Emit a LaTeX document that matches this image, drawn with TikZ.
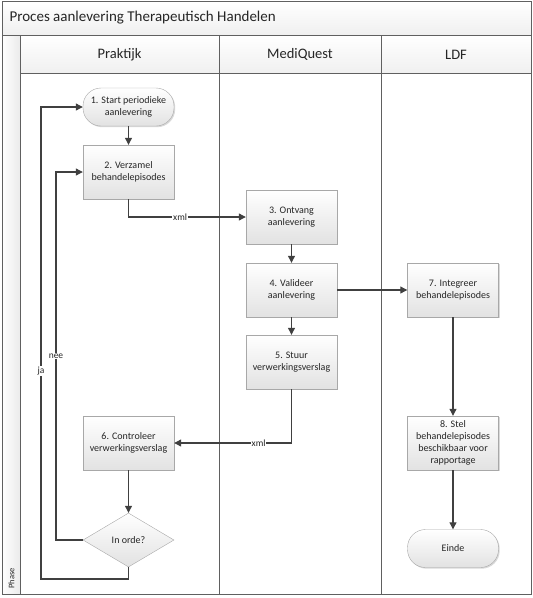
\documentclass[tikz,border=0pt]{standalone}
\usepackage{fontspec}
\setmainfont{Carlito}
\usetikzlibrary{arrows.meta,shapes.geometric,shadows}
\definecolor{linec}{HTML}{404040}
\definecolor{lanec}{HTML}{606060}
\definecolor{boxb}{HTML}{A8A8A8}
\definecolor{boxf}{HTML}{E2E2E2}
\begin{document}
\begin{tikzpicture}[x=1pt,y=-1pt,
  every node/.style={font=\fontsize{10}{12}\selectfont, text=black!85},
  stepbox/.style={draw=boxb, top color=white, bottom color=boxf, minimum width=91pt, minimum height=54pt, align=center, inner sep=2pt,
     drop shadow={shadow xshift=1.2pt, shadow yshift=-1.2pt, fill=black!15, opacity=1}},
  termbox/.style={stepbox, minimum height=38pt, rounded corners=18pt},
  decbox/.style={diamond, draw=boxb, top color=white, bottom color=boxf, minimum width=91pt, minimum height=54pt, inner sep=0pt, aspect=1.7},
  arr/.style={draw=linec, line width=1.1pt, -{Triangle[length=7pt,width=7pt]}},
  lbl/.style={fill=white, inner sep=0.8pt, font=\fontsize{9.5}{11}\selectfont},
  hdr/.style={font=\fontsize{14.5}{17}\selectfont},
  frame/.style={lanec, line width=0.8pt}
]
\useasboundingbox (0,0) rectangle (533,598);
% frame
\shade[top color=white, bottom color=black!6] (2,1) rectangle (531,35);
\shade[top color=white, bottom color=black!6] (20,35) rectangle (531,73);
\shade[left color=white, right color=black!8] (2,35) rectangle (20,594);
\draw[frame] (2,1) rectangle (531,594);
\draw[frame] (2,35) -- (531,35);
\draw[frame] (20,35) -- (20,594);
\draw[frame] (20,73) -- (531,73);
\draw[frame] (219,35) -- (219,594);
\draw[frame] (381,35) -- (381,594);
\node[anchor=west, font=\fontsize{15}{18}\selectfont] (title) at (6,18) {Proces aanlevering Therapeutisch Handelen};
\node[hdr] (hp) at (119.5,54.5) {Praktijk};
\node[hdr] (hm) at (300,54.5) {MediQuest};
\node[hdr] (hl) at (456,54.5) {LDF};
\node[rotate=90, anchor=west, font=\fontsize{8.5}{10}\selectfont] (phase) at (11.5,592) {Phase};
% nodes
\node[termbox] (n1) at (128.5,107) {1. Start periodieke\\aanlevering};
\node[stepbox] (n2) at (128.5,172) {2. Verzamel\\behandelepisodes};
\node[stepbox] (n3) at (291.5,217) {3. Ontvang\\aanlevering};
\node[stepbox] (n4) at (291.5,290) {4. Valideer\\aanlevering};
\node[stepbox] (n5) at (291.5,362) {5. Stuur\\verwerkingsverslag};
\node[stepbox] (n6) at (128.5,443) {6. Controleer\\verwerkingsverslag};
\node[decbox] (dec) at (128.5,540) {In orde?};
\node[stepbox] (n7) at (453,290) {7. Integreer\\behandelepisodes};
\node[stepbox] (n8) at (453,443) {8. Stel\\behandelepisodes\\beschikbaar voor\\rapportage};
\node[termbox] (einde) at (453,548.5) {Einde};
% helper coordinates
\coordinate (nee) at (56,172);
\coordinate (ja) at (41,579);
% connectors
\draw[arr] (n1) -- (n2);
\draw[arr] (n2.south) |- node[lbl, pos=0.72] {xml} (n3.west);
\draw[arr] (n3) -- (n4);
\draw[arr] (n4) -- (n5);
\draw[arr] (n4) -- (n7);
\draw[arr] (n7) -- (n8);
\draw[arr] (n8) -- (einde);
\draw[arr] (n5.south) |- node[lbl, pos=0.64] {xml} (n6.east);
\draw[arr] (n6) -- (dec);
\draw[arr] (dec.west) -| node[lbl, pos=0.75] {nee} (nee) -- (n2.west);
\draw[arr] (dec.south) |- (ja) |- node[lbl, pos=0.22] {ja} (n1.west);
\end{tikzpicture}
\end{document}
